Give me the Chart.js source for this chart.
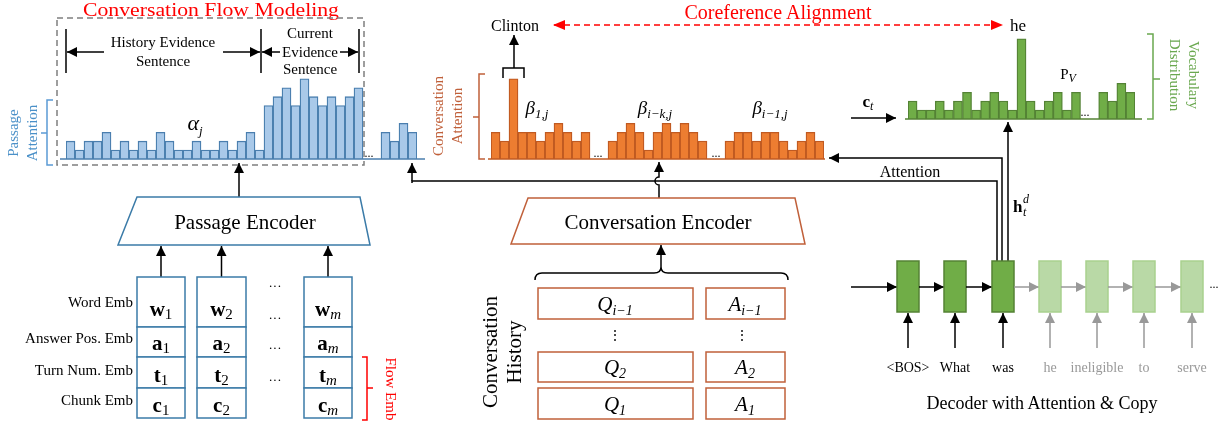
<!DOCTYPE html>
<html>
<head>
<meta charset="utf-8">
<script src="https://cdn.jsdelivr.net/npm/chart.js@4"></script>
<style>
  html, body { margin: 0; padding: 0; background: #fff; }
  #page { position: relative; width: 1225px; height: 429px; overflow: hidden; font-family: 'Liberation Serif', serif; }
  canvas { position: absolute; }
  svg { position: absolute; left: 0; top: 0; }
  svg text { font-family: 'Liberation Serif', serif; }
</style>
</head>
<body>
<div id="page">
  <canvas id="passageChart" width="351" height="89" style="left:66px;top:70px"></canvas>
  <canvas id="convChart" width="333" height="89" style="left:491px;top:70px"></canvas>
  <canvas id="vocabChart" width="227" height="89" style="left:908px;top:30px"></canvas>
  <svg id="diagram" width="1225" height="429"></svg>
</div>
<script>
// attention levels (null = gap shown as "...")
const passageAttn = [2, 1, 2, 2, 3, 1, 2, 1, 2, 1, 3, 2, 1, 1, 2, 1, 1, 2, 1, 2, 3, 1, 6, 7, 8, 6, 9, 7, 6, 7, 6, 7, 8, null, null, 3, 2, 4, 3];
const convAttn = [3, 2, 9, 3, 3, 2, 3, 4, 3, 2, 3, null, null, 2, 3, 4, 3, 1, 3, 4, 3, 4, 3, 2, null, null, 2, 3, 3, 2, 3, 3, 2, 1, 2, 3, 2];
const vocabDist = [2, 1, 1, 2, 1, 2, 3, 1, 2, 3, 2, 1, 9, 2, 1, 2, 3, 1, 3, null, null, 3, 2, 4, 3];
const levelMax = 10;

const embRows = ['Word Emb', 'Answer Pos. Emb', 'Turn Num. Emb', 'Chunk Emb'];
const embLetters = ['w', 'a', 't', 'c'];
const embCols = ['1', '2', 'm'];
const historyRows = [['i−1', 'i−1'], ['2', '2'], ['1', '1']];
const decoderWords = ['<BOS>', 'What', 'was', 'he', 'ineligible', 'to', 'serve'];
const decoderDone = 3;

function barChart(id, values, fill, border) {
    new Chart(document.getElementById(id), {
        type: 'bar',
        data: {
            labels: values.map((v, i) => i),
            datasets: [{ data: values, backgroundColor: fill, borderColor: border, borderWidth: 1.3, barPercentage: 1, categoryPercentage: 1 }]
        },
        options: {
            responsive: false, animation: false,
            layout: { padding: 0 },
            scales: { x: { display: false }, y: { display: false, min: 0, max: levelMax } },
            plugins: { legend: { display: false }, tooltip: { enabled: false } }
        }
    });
}

barChart('passageChart', passageAttn, '#a9c9e9', '#4a7eae');
barChart('convChart', convAttn, '#ed7d31', '#c05a22');
barChart('vocabChart', vocabDist, '#70ad47', '#548235');

// ---- diagram pieces (svg) ----
const svg = document.getElementById('diagram');
let out = `
<defs>
  <marker id="ah" markerWidth="10" markerHeight="10" refX="10" refY="5" orient="auto" markerUnits="userSpaceOnUse"><path d="M0,0 L10,5 L0,10 z" fill="#000"/></marker>
  <marker id="ahg" markerWidth="10" markerHeight="10" refX="10" refY="5" orient="auto" markerUnits="userSpaceOnUse"><path d="M0,0 L10,5 L0,10 z" fill="#999"/></marker>
  <marker id="ahr" markerWidth="12" markerHeight="10" refX="11" refY="5" orient="auto-start-reverse" markerUnits="userSpaceOnUse"><path d="M0,0 L12,5 L0,10 z" fill="#f00"/></marker>
</defs>`;

function txt(x, y, s, size, opts = {}) {
    const anchor = opts.anchor || 'middle';
    const fill = opts.fill || '#000';
    const extra = opts.extra || '';
    return `<text x="${x}" y="${y}" font-size="${size}" text-anchor="${anchor}" fill="${fill}" ${extra}>${s}</text>`;
}
function arrow(d, m = 'ah', col = '#000', w = 1.5) {
    return `<path d="${d}" fill="none" stroke="${col}" stroke-width="${w}" marker-end="url(#${m})"/>`;
}

// passage side
out += txt(211, 16, 'Conversation Flow Modeling', 19, { fill: '#f00', extra: 'textLength="256" lengthAdjust="spacingAndGlyphs"' });
out += `<rect x="57" y="18" width="307" height="147" fill="none" stroke="#7f7f7f" stroke-width="1.5" stroke-dasharray="6,4"/>`;
out += `<path d="M66,29 V73 M261,29 V73 M359,29 V73" stroke="#000" stroke-width="1.5"/>`;
out += arrow('M104,52 H67') + arrow('M223,52 H260') + arrow('M280,52 H262') + arrow('M340,52 H358');
out += txt(163, 47, 'History Evidence', 15) + txt(163, 66, 'Sentence', 15);
out += txt(310, 38, 'Current', 15) + txt(310, 57, 'Evidence', 15) + txt(310, 74, 'Sentence', 15);
out += `<line x1="60" y1="159" x2="425" y2="159" stroke="#4a7eae" stroke-width="1.5"/>`;
out += txt(369, 157, '...', 12);
out += txt(195, 130, 'α<tspan font-size="13" dy="5">j</tspan>', 22, { extra: 'font-style="italic"' });
out += `<path d="M53,100 H47 V165 H53 M47,133 H41" fill="none" stroke="#5b9bd5" stroke-width="1.5"/>`;
out += `<g transform="translate(18,133) rotate(-90)">${txt(0, 0, 'Passage', 15, { fill: '#4a90c8' })}${txt(0, 19, 'Attention', 15, { fill: '#4a90c8' })}</g>`;
out += arrow('M239,197 V163');
out += `<polygon points="137,197 360,197 370,245 118,245" fill="none" stroke="#3b7ba8" stroke-width="1.5"/>`;
out += txt(245, 229, 'Passage Encoder', 21);

// embedding grid
const colX = [[137, 185], [197, 246], [304, 352]];
const rowY = [277, 327, 357, 388, 418];
const rowBase = [316, 350, 382, 412];
colX.forEach(([x0, x1], ci) => {
    const cx = (x0 + x1) / 2;
    out += arrow(`M${cx},277 V246`);
    for (let r = 0; r < 4; r++) {
        out += `<rect x="${x0}" y="${rowY[r]}" width="${x1 - x0}" height="${rowY[r + 1] - rowY[r]}" fill="#fff" stroke="#3b7ba8" stroke-width="1.5"/>`;
        const sub = embCols[ci] === 'm' ? `<tspan font-style="italic" font-weight="normal" font-size="15" dy="3">m</tspan>` : `<tspan font-weight="normal" font-size="15" dy="3">${embCols[ci]}</tspan>`;
        out += txt(cx, rowBase[r], embLetters[r] + sub, 21, { extra: 'font-weight="bold"' });
    }
});
[290, 322, 352, 384].forEach(y => { out += txt(275, y, '···', 13); });
embRows.forEach((s, i) => { out += txt(133, [307, 343, 375, 405][i], s, 15, { anchor: 'end' }); });
out += `<path d="M362,357 H367 V420 H362 M367,388 H373" fill="none" stroke="#f00" stroke-width="1.5"/>`;
out += `<g transform="translate(386,389) rotate(90)">${txt(0, 0, 'Flow Emb', 15, { fill: '#f00' })}</g>`;

// conversation side
out += txt(778, 19, 'Coreference Alignment', 20, { fill: '#f00' });
out += `<line x1="554" y1="25" x2="1002" y2="25" stroke="#f00" stroke-width="1.5" stroke-dasharray="6,4" marker-start="url(#ahr)" marker-end="url(#ahr)"/>`;
out += txt(515, 31, 'Clinton', 16) + txt(1018, 31, 'he', 17);
out += `<path d="M503,78 V68 H524 V78" fill="none" stroke="#000" stroke-width="1.5"/>`;
out += arrow('M514,68 V35');
out += `<line x1="488" y1="159" x2="825" y2="159" stroke="#c05a22" stroke-width="1.5"/>`;
out += txt(598, 157, '...', 12) + txt(716, 157, '...', 12);
out += `<path d="M485,74 H479 V159 H485 M479,117 H473" fill="none" stroke="#c0603a" stroke-width="1.5"/>`;
out += `<g transform="translate(443,116) rotate(-90)">${txt(0, 0, 'Conversation', 15, { fill: '#c0603a' })}${txt(0, 19, 'Attention', 15, { fill: '#c0603a' })}</g>`;
const betaSub = ['1,j', 'i−k,j', 'i−1,j'];
[537, 655, 770].forEach((x, i) => {
    out += txt(x, 114, `β<tspan font-size="13" dy="4">${betaSub[i]}</tspan>`, 19, { extra: 'font-style="italic"' });
});
out += `<path d="M659,198 V185 A4,4 0 0 1 659,177 V170" fill="none" stroke="#000" stroke-width="1.5"/>`;
out += arrow('M659,171 V162');
out += `<polygon points="528,198 795,198 805,244 511,244" fill="none" stroke="#c0603a" stroke-width="1.5"/>`;
out += txt(658, 229, 'Conversation Encoder', 21);
out += `<path d="M535,280 Q535,273 542,273 H654 Q661,273 661,267 Q661,273 668,273 H781 Q788,273 788,280" fill="none" stroke="#000" stroke-width="1.5"/>`;
out += arrow('M661,267 V245');
const hY = [[288, 319], [352, 382], [388, 419]];
hY.forEach(([y0, y1], i) => {
    out += `<rect x="538" y="${y0}" width="155" height="${y1 - y0}" fill="none" stroke="#c0603a" stroke-width="1.5"/>`;
    out += `<rect x="706" y="${y0}" width="79" height="${y1 - y0}" fill="none" stroke="#c0603a" stroke-width="1.5"/>`;
    out += txt(615, y1 - 8, `Q<tspan font-size="14" dy="4">${historyRows[i][0]}</tspan>`, 21, { extra: 'font-style="italic"' });
    out += txt(745, y1 - 8, `A<tspan font-size="14" dy="4">${historyRows[i][1]}</tspan>`, 21, { extra: 'font-style="italic"' });
});
out += txt(615, 340, '⋮', 14) + txt(742, 340, '⋮', 14);
out += `<g transform="translate(497,352) rotate(-90)">${txt(0, 0, 'Conversation', 21)}${txt(0, 24, 'History', 21)}</g>`;

// attention wiring
out += `<path d="M997,261 V181 H412 V183" fill="none" stroke="#000" stroke-width="1.5"/>`;
out += arrow('M412,181 V163');
out += arrow('M1002,261 V158 H829');
out += arrow('M1008,261 V122');
out += txt(910, 177, 'Attention', 16);
out += txt(1013, 212, 'h', 17, { anchor: 'start', extra: 'font-weight="bold"' });
out += txt(1023, 216, 't', 12, { anchor: 'start', extra: 'font-style="italic"' });
out += txt(1023, 203, 'd', 12, { anchor: 'start', extra: 'font-style="italic"' });

// vocabulary
out += `<line x1="905" y1="119" x2="1142" y2="119" stroke="#548235" stroke-width="1.5"/>`;
out += txt(1085, 116, '...', 12);
out += arrow('M851,118 H896');
out += txt(868, 107, '<tspan font-weight="bold">c</tspan><tspan font-style="italic" font-size="12" dy="3">t</tspan>', 17);
out += txt(1068, 79, 'P<tspan font-style="italic" font-size="12" dy="3">V</tspan>', 15);
out += `<path d="M1147,34 H1153 V119 H1147 M1153,79 H1160" fill="none" stroke="#6aa84f" stroke-width="1.5"/>`;
out += `<g transform="translate(1189,75) rotate(90)">${txt(0, 0, 'Vocabulary', 15, { fill: '#6aa84f' })}${txt(0, 19, 'Distribution', 15, { fill: '#6aa84f' })}</g>`;

// decoder
const cellX = [897, 944, 992, 1039, 1086, 1133, 1181];
let prev = 851;
cellX.forEach((x, i) => {
    const done = i < decoderDone;
    const col = done ? '#000' : '#999';
    const m = done ? 'ah' : 'ahg';
    out += arrow(`M${prev},287 H${x}`, m, col);
    out += `<rect x="${x}" y="261" width="22" height="51" fill="${done ? '#70ad47' : '#b9d9a6'}" stroke="${done ? '#548235' : '#a9d18e'}" stroke-width="1.5"/>`;
    out += arrow(`M${x + 11},348 V313`, m, col);
    out += txt(x + 11, 372, decoderWords[i].replace('<', '&lt;').replace('>', '&gt;'), 14, { fill: done ? '#000' : '#999' });
    prev = x + 22;
});
out += txt(1214, 288, '...', 12);
out += txt(1042, 409, 'Decoder with Attention &amp; Copy', 18);

svg.innerHTML = out;
</script>
</body>
</html>
